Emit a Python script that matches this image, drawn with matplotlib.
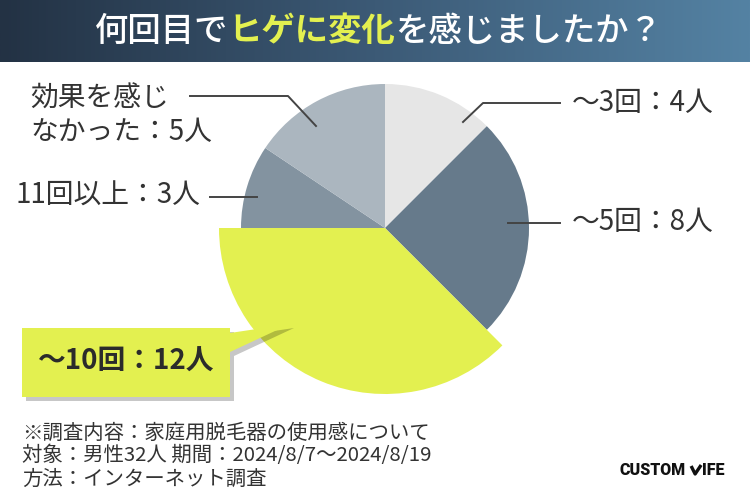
import numpy as np
import matplotlib
matplotlib.use("Agg")
import matplotlib.pyplot as plt
from matplotlib.patches import Polygon
from matplotlib.colors import LinearSegmentedColormap

plt.rcParams['font.family'] = ['Noto Sans CJK JP', 'DejaVu Sans']

# data
categories = ["～3回", "～5回", "～10回", "11回以上", "効果を感じ\nなかった"]
counts = [4, 8, 12, 3, 5]
slice_colors = ["#e6e6e6", "#667a8b", "#e3f050", "#8393a0", "#abb6bf"]
footer_lines = ["※調査内容：家庭用脱毛器の使用感について",
                "対象：男性32人 期間：2024/8/7～2024/8/19",
                "方法：インターネット調査"]

W, H = 750, 500


def P(y):
    # pixel row (from top) -> data y
    return H - y


fig = plt.figure(figsize=(7.5, 5), dpi=100)
ax = fig.add_axes([0, 0, 1, 1])
r = fig.canvas.get_renderer()

# title bar with gradient
grad = np.linspace(0, 1, 256).reshape(1, -1)
cmap = LinearSegmentedColormap.from_list("bar", ["#233244", "#3c5a76", "#5482a3"])
ax.imshow(grad, cmap=cmap, extent=(0, W, P(62), P(0)), aspect='auto', zorder=0)

# pie
wedges, _ = ax.pie(counts, colors=slice_colors, startangle=90, counterclock=False,
                   center=(385, P(228)), radius=144, wedgeprops=dict(linewidth=0))
for w in wedges:
    w.set_zorder(2)
wedges[2].set_radius(166)
ax.set_xlim(0, W)
ax.set_ylim(0, H)

# title, three colored parts chained one after another
t1 = ax.text(95, P(31), "何回目で", color="white", fontsize=24, fontweight='medium',
             ha='left', va='center', zorder=5)
t2 = ax.annotate("ヒゲに変化", xy=(1, 0), xycoords=t1, color="#e3f050", fontsize=24,
                 fontweight='bold', ha='left', va='bottom', zorder=5)
t3 = ax.annotate("を感じましたか？", xy=(1, 0), xycoords=t2, color="white", fontsize=24,
                 fontweight='medium', ha='left', va='bottom', zorder=5)

# leader lines and labels
line_kw = dict(color="#444444", lw=1.4, zorder=3)
ax.plot([463, 483, 560], [P(122), P(103), P(103)], **line_kw)
ax.plot([508, 560], [P(223), P(223)], **line_kw)
ax.plot([210, 257], [P(197), P(197)], **line_kw)
ax.plot([190, 288, 316], [P(96), P(96), P(126)], **line_kw)

lab = dict(color="#333333", fontsize=20, fontweight='regular', ha='left', va='center', zorder=5)
ax.text(572, P(103), f"{categories[0]}：{counts[0]}人", **lab)
ax.text(572, P(222), f"{categories[1]}：{counts[1]}人", **lab)
ax.text(15, P(196), f"{categories[3]}：{counts[3]}人", **lab)
l1, l2 = categories[4].split("\n")
ax.text(30, P(99), l1, **lab)
ax.text(30, P(132), f"{l2}：{counts[4]}人", **lab)

# callout for the biggest slice
callout = [(22, 328), (230, 328), (230, 333), (290, 324), (230, 352), (230, 397), (22, 397)]
shadow = Polygon([(x + 4, P(y + 4)) for x, y in callout], closed=True,
                 facecolor="black", alpha=0.22, lw=0, zorder=3)
box = Polygon([(x, P(y)) for x, y in callout], closed=True,
              facecolor="#e3f050", lw=0, zorder=4)
ax.add_patch(shadow)
ax.add_patch(box)
ax.text(126, P(362), f"{categories[2]}：{counts[2]}人", color="#2b2b2b", fontsize=20,
        fontweight='bold', ha='center', va='center', zorder=5)

# footer
for i, line in enumerate(footer_lines):
    ax.text(22, P(433 + 23 * i), line, color="#333333", fontsize=14.7,
            ha='left', va='center', zorder=5)

# logo
lg1 = ax.text(620, P(470), "CUSTOM", color="#111111", fontsize=11.5, fontweight='heavy',
              family=['Roboto', 'DejaVu Sans'], ha='left', va='center', zorder=5)
bb = lg1.get_window_extent(r)
x0 = bb.x1 + 5
ax.plot([x0, x0 + 4, x0 + 10], [P(466), P(474), P(465)], color="#111111", lw=2.4,
        solid_capstyle='butt', zorder=5)
ax.text(x0 + 11, P(470), "IFE", color="#111111", fontsize=11.5, fontweight='heavy',
        family=['Roboto', 'DejaVu Sans'], ha='left', va='center', zorder=5)

ax.set_aspect('auto')
ax.axis('off')

fig.savefig("out.png", dpi=100, facecolor="white")
